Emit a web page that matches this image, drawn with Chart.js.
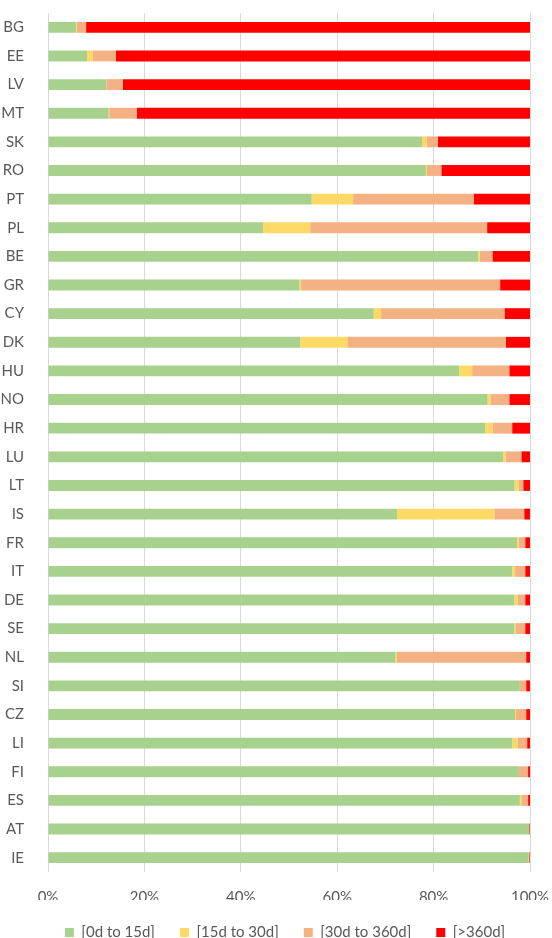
<!DOCTYPE html>
<html lang="en">
<head>
    <meta charset="UTF-8">
    <title>Share by age bucket</title>
    <script src="https://cdn.jsdelivr.net/npm/chart.js"></script>
    <style>
        body { margin: 0; background: #fff; overflow: hidden; }
    </style>
</head>
<body>
<div>
  <canvas id="AgeChart" width="552" height="938"></canvas>
</div>
<script>
// values in %, top bar first
const countries = ['BG','EE','LV','MT','SK','RO','PT','PL','BE','GR','CY','DK','HU','NO','HR',
                   'LU','LT','IS','FR','IT','DE','SE','NL','SI','CZ','LI','FI','ES','AT','IE'];
const upTo15d   = [5.8, 8.1, 12.1, 12.6, 77.6, 78.4, 54.7, 44.6, 89.3, 52.2, 67.6, 52.3, 85.3, 91.2, 90.7,
                   94.4, 96.8, 72.4, 97.3, 96.3, 96.7, 96.8, 72.1, 97.9, 96.9, 96.3, 97.7, 97.9, 99.8, 99.7];
const upTo30d   = [0.2, 1.2, 0, 0.1, 1.0, 0.2, 8.6, 9.8, 0.3, 0.3, 1.5, 9.8, 2.7, 0.6, 1.5,
                   0.5, 0.9, 20.2, 0.3, 0.6, 0.7, 0.3, 0.3, 0, 0.2, 1.1, 0, 0.3, 0, 0];
const upTo360d  = [1.9, 4.8, 3.4, 5.7, 2.3, 3.0, 25.0, 36.7, 2.6, 41.3, 25.6, 32.9, 7.7, 3.9, 4.1,
                   3.3, 0.9, 6.2, 1.4, 2.1, 1.6, 1.9, 26.8, 1.3, 2.1, 2.0, 1.9, 1.4, 0.05, 0.15];
const over360d  = [92.1, 85.9, 84.5, 81.6, 19.1, 18.4, 11.7, 8.9, 7.8, 6.2, 5.3, 5.0, 4.3, 4.3, 3.7,
                   1.8, 1.4, 1.2, 1.0, 1.0, 1.0, 1.0, 0.8, 0.8, 0.8, 0.6, 0.4, 0.4, 0.15, 0.15];
const xTicks = [0, 20, 40, 60, 80, 100];

const textColor = '#595959';
const fontFamily = 'Lato, "Liberation Sans", sans-serif';

function series(label, data, color) {
    return {
        label: label,
        data: data,
        backgroundColor: color,
        borderWidth: 0,
        categoryPercentage: 1,
        barPercentage: 0.38
    };
}

// the legend in the original sits a bit right of the canvas centre
const shiftLegend = {
    id: 'shiftLegend',
    afterLayout(chart) {
        chart.legend.left += 20;
        chart.legend.right += 20;
    }
};

const ctx = document.getElementById('AgeChart').getContext('2d');
new Chart(ctx, {
    type: 'bar',
    data: {
        labels: countries,
        datasets: [
            series('[0d to 15d]', upTo15d, '#A9D18E'),
            series('[15d to 30d]', upTo30d, '#FFD966'),
            series('[30d to 360d]', upTo360d, '#F4B183'),
            series('[>360d]', over360d, '#FF0000')
        ]
    },
    plugins: [shiftLegend],
    options: {
        indexAxis: 'y',
        responsive: false,
        animation: false,
        layout: { padding: { top: 13, right: 22, left: 0, bottom: -12 } },
        plugins: {
            tooltip: { enabled: false },
            legend: {
                position: 'bottom',
                labels: {
                    boxWidth: 9,
                    boxHeight: 9,
                    padding: 25,
                    color: textColor,
                    font: { family: fontFamily, size: 15 }
                }
            }
        },
        scales: {
            x: {
                stacked: true,
                min: 0,
                max: 100,
                afterBuildTicks: function(scale) {
                    scale.ticks = xTicks.map(v => ({ value: v }));
                },
                afterFit: function(scale) {
                    scale.height = 28;
                    scale.paddingLeft = 0;
                    scale.paddingRight = 0;
                },
                grid: { color: '#D9D9D9', lineWidth: 1, drawTicks: false },
                border: { display: false },
                ticks: {
                    padding: 16,
                    color: textColor,
                    font: { family: fontFamily, size: 15 },
                    callback: v => v + '%'
                }
            },
            y: {
                stacked: true,
                afterFit: function(scale) {
                    scale.width = 48;
                    scale.paddingTop = 0;
                    scale.paddingBottom = 0;
                },
                grid: { display: false },
                border: { display: false },
                ticks: {
                    padding: 16,
                    color: textColor,
                    font: { family: fontFamily, size: 15 }
                }
            }
        }
    }
});
</script>
</body>
</html>
